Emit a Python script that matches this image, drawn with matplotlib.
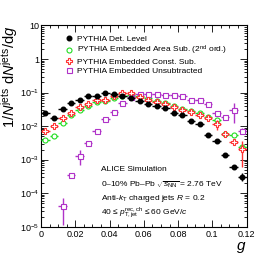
import matplotlib
matplotlib.use("Agg")
import matplotlib.pyplot as plt
from matplotlib.lines import Line2D
from matplotlib.ticker import FixedLocator, MultipleLocator, FuncFormatter, LogLocator
import numpy as np

plt.rcParams['font.family'] = ['Liberation Sans', 'DejaVu Sans']
plt.rcParams['mathtext.fontset'] = 'custom'
plt.rcParams['mathtext.rm'] = 'Liberation Sans'
plt.rcParams['mathtext.it'] = 'Liberation Sans:italic'
plt.rcParams['mathtext.bf'] = 'Liberation Sans:bold'

# bin centres of g (bin width 0.005)
g = [0.0025, 0.0075, 0.0125, 0.0175, 0.0225, 0.0275, 0.0325, 0.0375,
     0.0425, 0.0475, 0.0525, 0.0575, 0.0625, 0.0675, 0.0725, 0.0775,
     0.0825, 0.0875, 0.0925, 0.0975, 0.1025, 0.1075, 0.1125, 0.1175]
g_halfwidth = 0.0025

det_level = [0.025, 0.017, 0.033, 0.048, 0.060, 0.080, 0.080, 0.095,
             0.089, 0.080, 0.068, 0.057, 0.046, 0.040, 0.034, 0.025,
             0.021, 0.0144, 0.0113, 0.0054, 0.0035, 0.00135, 0.00061, 0.00031]
det_err = [0.002, 0.0015, 0.002, 0.003, 0.003, 0.003, 0.003, 0.004,
           0.004, 0.004, 0.003, 0.003, 0.002, 0.002, 0.002, 0.0015,
           0.0015, 0.001, 0.001, 0.0005, 0.0004, 0.00015, 0.0001, 0.00008]

area_sub = [0.0038, 0.0050, 0.0126, 0.022, 0.030, 0.040, 0.054, 0.057,
            0.068, 0.080, 0.085, 0.078, 0.067, 0.057, 0.048, 0.040,
            0.032, 0.029, 0.024, 0.019, 0.015, 0.0060, 0.0054, 0.0024]
area_err = [0.0004, 0.0005, 0.001, 0.0015, 0.002, 0.002, 0.003, 0.003,
            0.003, 0.004, 0.004, 0.004, 0.003, 0.003, 0.003, 0.002,
            0.002, 0.002, 0.002, 0.0015, 0.0012, 0.0006, 0.0006, 0.0004]

const_sub = [0.0071, 0.010, 0.017, 0.025, 0.036, 0.045, 0.058, 0.062,
             0.080, 0.100, 0.095, 0.072, 0.062, 0.053, 0.045, 0.036,
             0.030, 0.026, 0.021, 0.018, 0.0115, 0.0058, 0.0034, 0.0021]
const_err = [0.0008, 0.001, 0.0015, 0.002, 0.003, 0.004, 0.005, 0.006,
             0.012, 0.020, 0.018, 0.006, 0.005, 0.004, 0.004, 0.003,
             0.003, 0.003, 0.003, 0.003, 0.004, 0.0008, 0.0006, 0.0015]

unsub_g = g[2:]
unsubtracted = [4.1e-5, 3.5e-4, 1.3e-3, 3.2e-3, 7.2e-3, 0.016,
                0.026, 0.050, 0.074, 0.090, 0.090, 0.090, 0.085, 0.085,
                0.080, 0.060, 0.060, 0.046, 0.024, 0.019, 0.030, 0.0072]
unsub_err = [3e-5, 5e-5, 6e-4, 4e-4, 6e-4, 0.001,
             0.002, 0.003, 0.004, 0.005, 0.005, 0.005, 0.005, 0.005,
             0.005, 0.004, 0.004, 0.004, 0.003, 0.003, 0.018, 0.0015]

labels = ['PYTHIA Det. Level',
          'PYTHIA Embedded Area Sub. (2$^{\\rm nd}$ ord.)',
          'PYTHIA Embedded Const. Sub.',
          'PYTHIA Embedded Unsubtracted']

fig = plt.figure(figsize=(2.74, 2.68), dpi=100)
ax = fig.add_axes([0.150, 0.154, 0.750, 0.751])

green = '#22dd22'
red = '#ff3333'
purple = '#b033c8'

# error bars first, markers with white face on top (ROOT-like open markers)
ax.errorbar(g, det_level, yerr=det_err, xerr=g_halfwidth, fmt='o', ms=3.3,
            color='black', mfc='black', mec='black', elinewidth=1, capsize=0, zorder=5)
ax.errorbar(g, area_sub, yerr=area_err, xerr=g_halfwidth, fmt='o', ms=3.6,
            color=green, mfc='white', mec=green, mew=0.8, elinewidth=1, capsize=0, zorder=3)
ax.errorbar(g, const_sub, yerr=const_err, xerr=g_halfwidth, fmt='P', ms=4.2,
            color=red, mfc='white', mec=red, mew=0.8, elinewidth=1, capsize=0, zorder=4)
ax.errorbar(unsub_g, unsubtracted, yerr=unsub_err, xerr=g_halfwidth, fmt='s', ms=3.6,
            color=purple, mfc='white', mec=purple, mew=0.8, elinewidth=1, capsize=0, zorder=3)

ax.set_yscale('log')
ax.set_xlim(0, 0.12)
ax.set_ylim(1e-5, 10)

ax.xaxis.set_major_locator(MultipleLocator(0.02))
ax.xaxis.set_minor_locator(MultipleLocator(0.005))
ax.xaxis.set_major_formatter(FuncFormatter(lambda v, p: '0' if abs(v) < 1e-9 else ('%g' % round(v, 3))))
ax.yaxis.set_major_locator(FixedLocator([1e-5, 1e-4, 1e-3, 1e-2, 1e-1, 1, 10]))
ax.yaxis.set_minor_locator(LogLocator(base=10, subs=np.arange(2, 10), numticks=20))


def ylab(v, p):
    if v >= 9:
        return '10'
    if abs(v - 1) < 1e-9:
        return '1'
    return '$10^{%d}$' % int(round(np.log10(v)))


ax.yaxis.set_major_formatter(FuncFormatter(ylab))
ax.tick_params(which='both', direction='in', top=True, right=True, labelsize=6.5, width=0.6)
ax.tick_params(which='major', length=5)
ax.tick_params(which='minor', length=2.5)
ax.tick_params(axis='x', pad=2)
ax.tick_params(axis='y', pad=1.5)
for s in ax.spines.values():
    s.set_linewidth(0.8)

ax.set_xlabel('$g$', fontsize=11, loc='right', labelpad=1)
ax.set_ylabel('1/$N^{\\rm jets}$ d$N^{\\rm jets}$/d$g$', fontsize=10.5, loc='top', labelpad=0)

handles = [Line2D([], [], ls='none', marker='o', ms=3.3, color='black'),
           Line2D([], [], ls='none', marker='o', ms=3.6, mfc='none', mec=green, mew=0.8),
           Line2D([], [], ls='none', marker='P', ms=4.2, mfc='none', mec=red, mew=0.8),
           Line2D([], [], ls='none', marker='s', ms=3.6, mfc='none', mec=purple, mew=0.8)]
ax.legend(handles, labels, loc='upper left', bbox_to_anchor=(0.1, 0.97), frameon=False, fontsize=6,
          handlelength=1.0, handletextpad=0.5, labelspacing=0.12, borderaxespad=0)

tx = 0.29
ax.text(tx, 0.275, 'ALICE Simulation', transform=ax.transAxes, fontsize=6)
ax.text(tx, 0.2, '0\u201310% Pb\u2013Pb $\\sqrt{s_{\\rm NN}}$ = 2.76 TeV', transform=ax.transAxes, fontsize=6)
ax.text(tx, 0.135, 'Anti-$k_{\\rm T}$ charged jets $R$ = 0.2', transform=ax.transAxes, fontsize=6)
ax.text(tx, 0.06, '40 \u2264 $p_{\\rm T,jet}^{\\rm rec,ch}$ \u2264 60 GeV/$c$', transform=ax.transAxes, fontsize=6)

fig.savefig('out.png', dpi=100)
